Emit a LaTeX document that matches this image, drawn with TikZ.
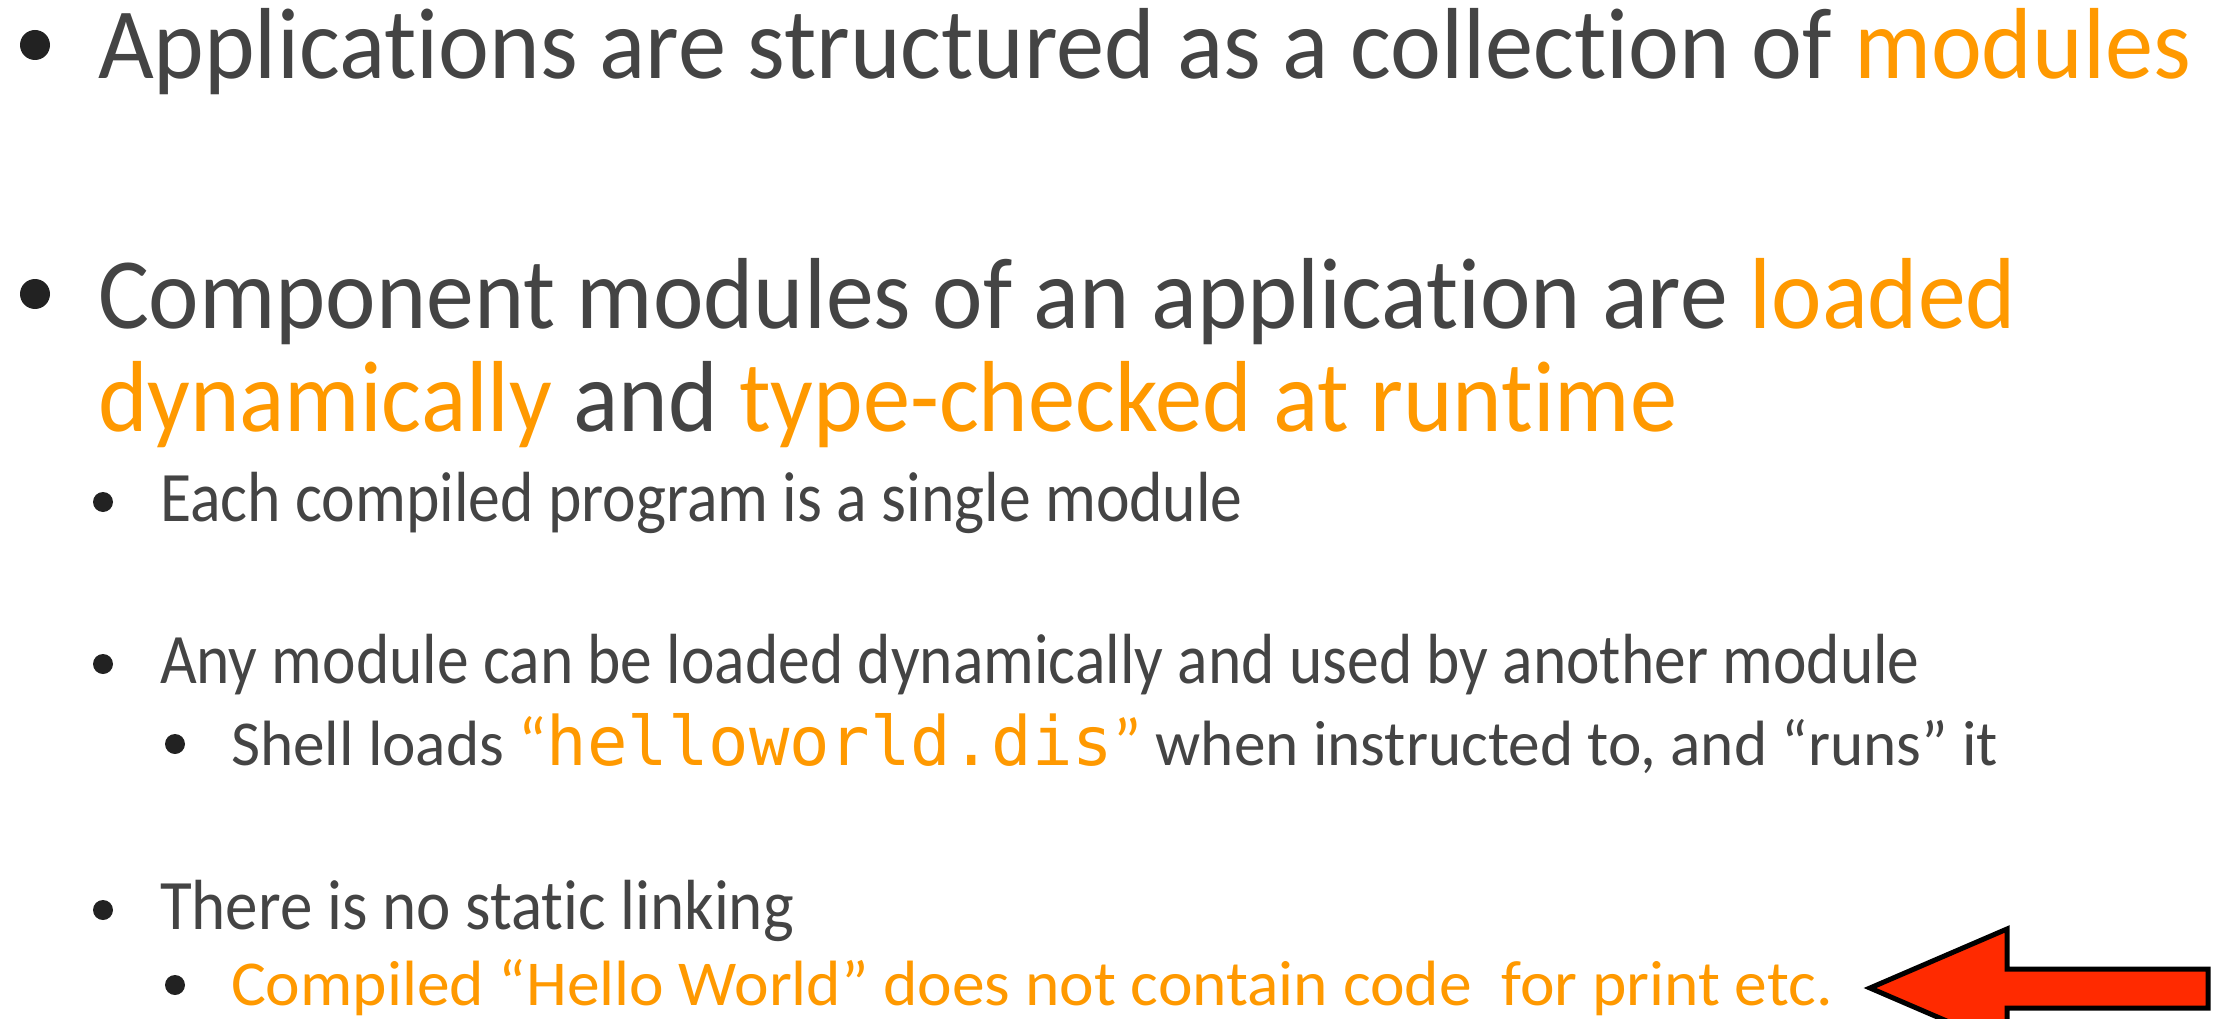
\documentclass[tikz,border=0pt]{standalone}
\usepackage{fontspec}
\setmainfont[Ligatures=NoCommon]{Carlito}
\newfontfamily\codefont{DejaVu Sans Mono}
\usepackage{graphicx}
\definecolor{txt}{HTML}{444444}
\definecolor{hi}{HTML}{FF9900}
\definecolor{blt}{HTML}{222222}
\definecolor{arrowred}{HTML}{FF2A00}
\newsavebox\fitbox
\newcommand\fitto[2]{\sbox\fitbox{#2}\pgfmathsetmacro\fitsx{#1/\wd\fitbox}\scalebox{\fitsx}[1]{\usebox\fitbox}}
\begin{document}
\begin{tikzpicture}[x=1pt,y=-1pt,
  textline/.style={anchor=base west, inner sep=0pt, outer sep=0pt, text=txt},
  big/.style={textline, font=\fontsize{101}{120}\selectfont},
  mid/.style={textline, font=\fontsize{71}{85}\selectfont},
  small/.style={textline, font=\fontsize{64}{76}\selectfont},
  bulA/.style={circle, fill=blt, inner sep=0pt, minimum size=30pt},
  bulB/.style={circle, fill=blt, inner sep=0pt, minimum size=20pt},
]
\useasboundingbox (0,0) rectangle (2214,1019);
\clip (0,0) rectangle (2214,1019);

\node[bulA] (b1) at (35,45) {};
\node[big] (l1) at (98,79) {\fitto{2093}{Applications are structured as a collection of \textcolor{hi}{modules}}};

\node[bulA] (b2) at (35,294) {};
\node[big] (l2) at (98,328) {\fitto{1918}{Component modules of an application are \textcolor{hi}{loaded}}};
\node[big] (l3) at (98,431) {\fitto{1579}{\textcolor{hi}{dynamically} and \textcolor{hi}{type-checked at runtime}}};

\node[bulB] (b4) at (103,502) {};
\node[mid] (l4) at (160,521) {\fitto{1083}{Each compiled program is a single module}};

\node[bulB] (b5) at (103,664) {};
\node[mid] (l5) at (160,683) {\fitto{1760}{Any module can be loaded dynamically and used by another module}};

\node[bulB] (b6) at (175,744) {};
\node[small] (l6) at (231,765) {\fitto{1767}{Shell loads {\color{hi}\fontsize{68}{80}\selectfont “\codefont helloworld.dis\rmfamily ”} when instructed to, and “runs” it}};

\node[bulB] (b7) at (103,910) {};
\node[mid] (l7) at (160,929) {\fitto{634}{There is no static linking}};

\node[bulB] (b8) at (175,985) {};
\node[small] (l8) at (231,1005) {\fitto{1602}{\color{hi}Compiled “Hello World” does not contain code~ for print etc.}};

\draw[line width=5pt, fill=arrowred, line join=miter, miter limit=10]
  (2208,969) -- (2007,969) -- (2007,929) -- (1870,988) -- (2007,1047)
  -- (2007,1008) -- (2208,1008) -- cycle;
\end{tikzpicture}
\end{document}
